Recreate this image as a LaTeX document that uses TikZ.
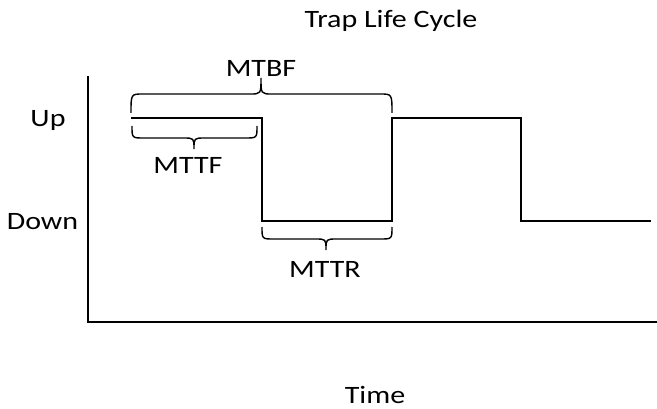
\documentclass[tikz,border=0pt]{standalone}
\usepackage{fontspec}
\setmainfont{Carlito}
\begin{document}
\begin{tikzpicture}[x=1pt,y=-1pt,
  lbl/.style={inner sep=0pt,anchor=base,xscale=1.2,font=\fontsize{25}{30}\selectfont},
  ln/.style={line width=2pt,line join=miter},
  brc/.style={line width=1.4pt}]
\useasboundingbox (0,0) rectangle (657,409);
% axes
\coordinate (ytop) at (88,76);
\coordinate (orig) at (88,322.5);
\coordinate (xend) at (657,322.5);
\draw[ln] (ytop) -- (orig) -- (xend);
% waveform
\draw[ln] (131,118) -- (262,118) -- (262,221.5) -- (392,221.5) -- (392,118) -- (521,118) -- (521,221.5) -- (651,221.5);
% braces
\newcommand{\mybrace}[6]{% a b m y0 y1 y2
  \draw[brc] (#1,#4) .. controls (#1,#5) .. (#1+12,#5) -- (#3-11,#5)
    .. controls (#3,#5) .. (#3,#6) .. controls (#3,#5) .. (#3+11,#5)
    -- (#2-12,#5) .. controls (#2,#5) .. (#2,#4);}
\mybrace{131}{392}{261}{113}{94}{78}
\mybrace{132}{257}{194}{126}{138}{149}
\mybrace{262}{392}{326}{227}{239}{250}
% labels
\node[lbl] (title) at (391,28) {Trap Life Cycle};
\node[lbl] (mtbf) at (261,77) {MTBF};
\node[lbl] (mttf) at (188,174) {MTTF};
\node[lbl] (mttr) at (325,278) {MTTR};
\node[lbl] (up) at (48,127) {Up};
\node[lbl] (down) at (42.5,230) {Down};
\node[lbl] (time) at (375,403) {Time};
\end{tikzpicture}
\end{document}
